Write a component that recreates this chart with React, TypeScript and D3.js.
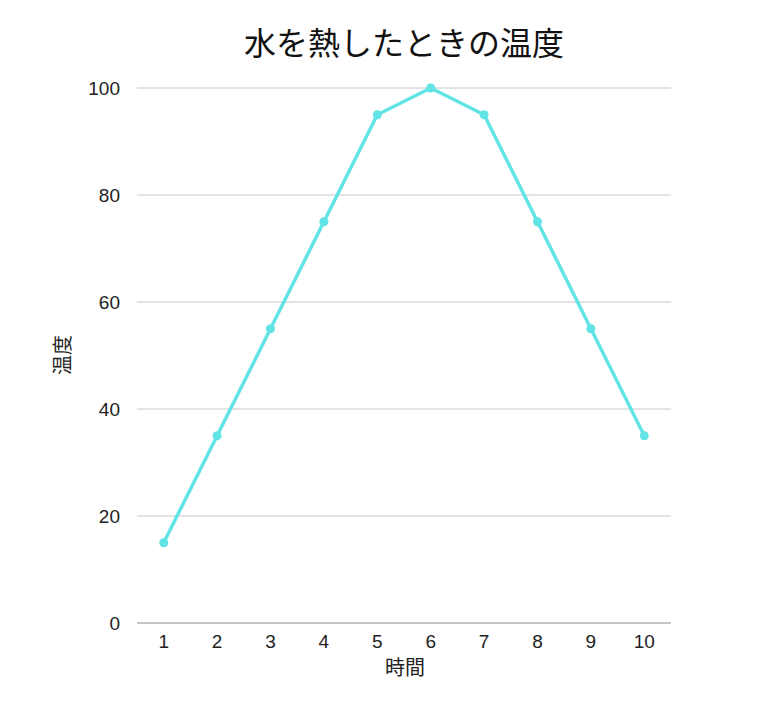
import * as d3 from 'd3';
import React, {useEffect, useRef} from 'react';

const hours: Array<string> = ['1', '2', '3', '4', '5', '6', '7', '8', '9', '10'];
const temperatures: Array<number> = [15, 35, 55, 75, 95, 100, 95, 75, 55, 35];
const yTicks: Array<number> = [0, 20, 40, 60, 80, 100];

const App: React.FC = () => {
  const chartRef = useRef<SVGSVGElement>(null);

  useEffect(() => {
    const width = 762;
    const height = 703;
    const margin = {top: 88, right: 91, bottom: 80, left: 137};
    const svg = d3.select(chartRef.current);
    svg.selectAll('*').remove();

    const x = d3.scaleBand<string>()
      .domain(hours)
      .range([margin.left, width - margin.right]);

    const y = d3.scaleLinear()
      .domain([0, 100])
      .range([height - margin.bottom, margin.top]);

    const font = 'Arial, "Liberation Sans", sans-serif';
    const jpFont = '"Noto Sans CJK JP", sans-serif';

    // gridlines
    svg.append('g')
      .selectAll('line')
      .data(yTicks.filter(t => t > 0))
      .enter()
      .append('line')
      .attr('x1', margin.left)
      .attr('x2', width - margin.right)
      .attr('y1', d => y(d))
      .attr('y2', d => y(d))
      .attr('stroke', '#c8c8c8')
      .attr('stroke-width', 1);

    // baseline
    svg.append('line')
      .attr('x1', margin.left)
      .attr('x2', width - margin.right)
      .attr('y1', y(0))
      .attr('y2', y(0))
      .attr('stroke', '#888')
      .attr('stroke-width', 1);

    // y tick labels
    svg.append('g')
      .selectAll('text')
      .data(yTicks)
      .enter()
      .append('text')
      .attr('x', 120)
      .attr('y', d => y(d))
      .attr('dy', '0.35em')
      .attr('text-anchor', 'end')
      .style('font-family', font)
      .style('font-size', '19px')
      .attr('fill', '#222')
      .text(d => d);

    // x tick labels
    svg.append('g')
      .selectAll('text')
      .data(hours)
      .enter()
      .append('text')
      .attr('x', d => (x(d) as number) + x.bandwidth() / 2)
      .attr('y', y(0) + 25)
      .attr('text-anchor', 'middle')
      .style('font-family', font)
      .style('font-size', '19px')
      .attr('fill', '#222')
      .text(d => d);

    const cx = (i: number) => (x(hours[i]) as number) + x.bandwidth() / 2;

    const line = d3.line<number>()
      .x((_, i) => cx(i))
      .y(d => y(d));

    svg.append('path')
      .datum(temperatures)
      .attr('fill', 'none')
      .attr('stroke', '#62e3e6')
      .attr('stroke-width', 3.5)
      .attr('stroke-linejoin', 'round')
      .attr('d', line);

    svg.append('g')
      .selectAll('circle')
      .data(temperatures)
      .enter()
      .append('circle')
      .attr('cx', (_, i) => cx(i))
      .attr('cy', d => y(d))
      .attr('r', 4.5)
      .attr('fill', '#62e3e6');

    // title
    svg.append('text')
      .attr('x', 404)
      .attr('y', 55)
      .attr('text-anchor', 'middle')
      .style('font-family', jpFont)
      .style('font-size', '32px')
      .attr('fill', '#111')
      .text('水を熱したときの温度');

    // axis titles
    svg.append('text')
      .attr('x', 405)
      .attr('y', 675)
      .attr('text-anchor', 'middle')
      .style('font-family', jpFont)
      .style('font-size', '20px')
      .attr('fill', '#222')
      .text('時間');

    svg.append('text')
      .attr('transform', 'translate(70, 355) rotate(-90)')
      .attr('text-anchor', 'middle')
      .style('font-family', jpFont)
      .style('font-size', '20px')
      .attr('fill', '#222')
      .text('温度');
  }, []);

  return (
    <svg
      ref={chartRef}
      width={762}
      height={703}
      style={{display: 'block', position: 'absolute', left: 0, top: 0, background: '#fff'}}
    />
  );
};

export default App;
